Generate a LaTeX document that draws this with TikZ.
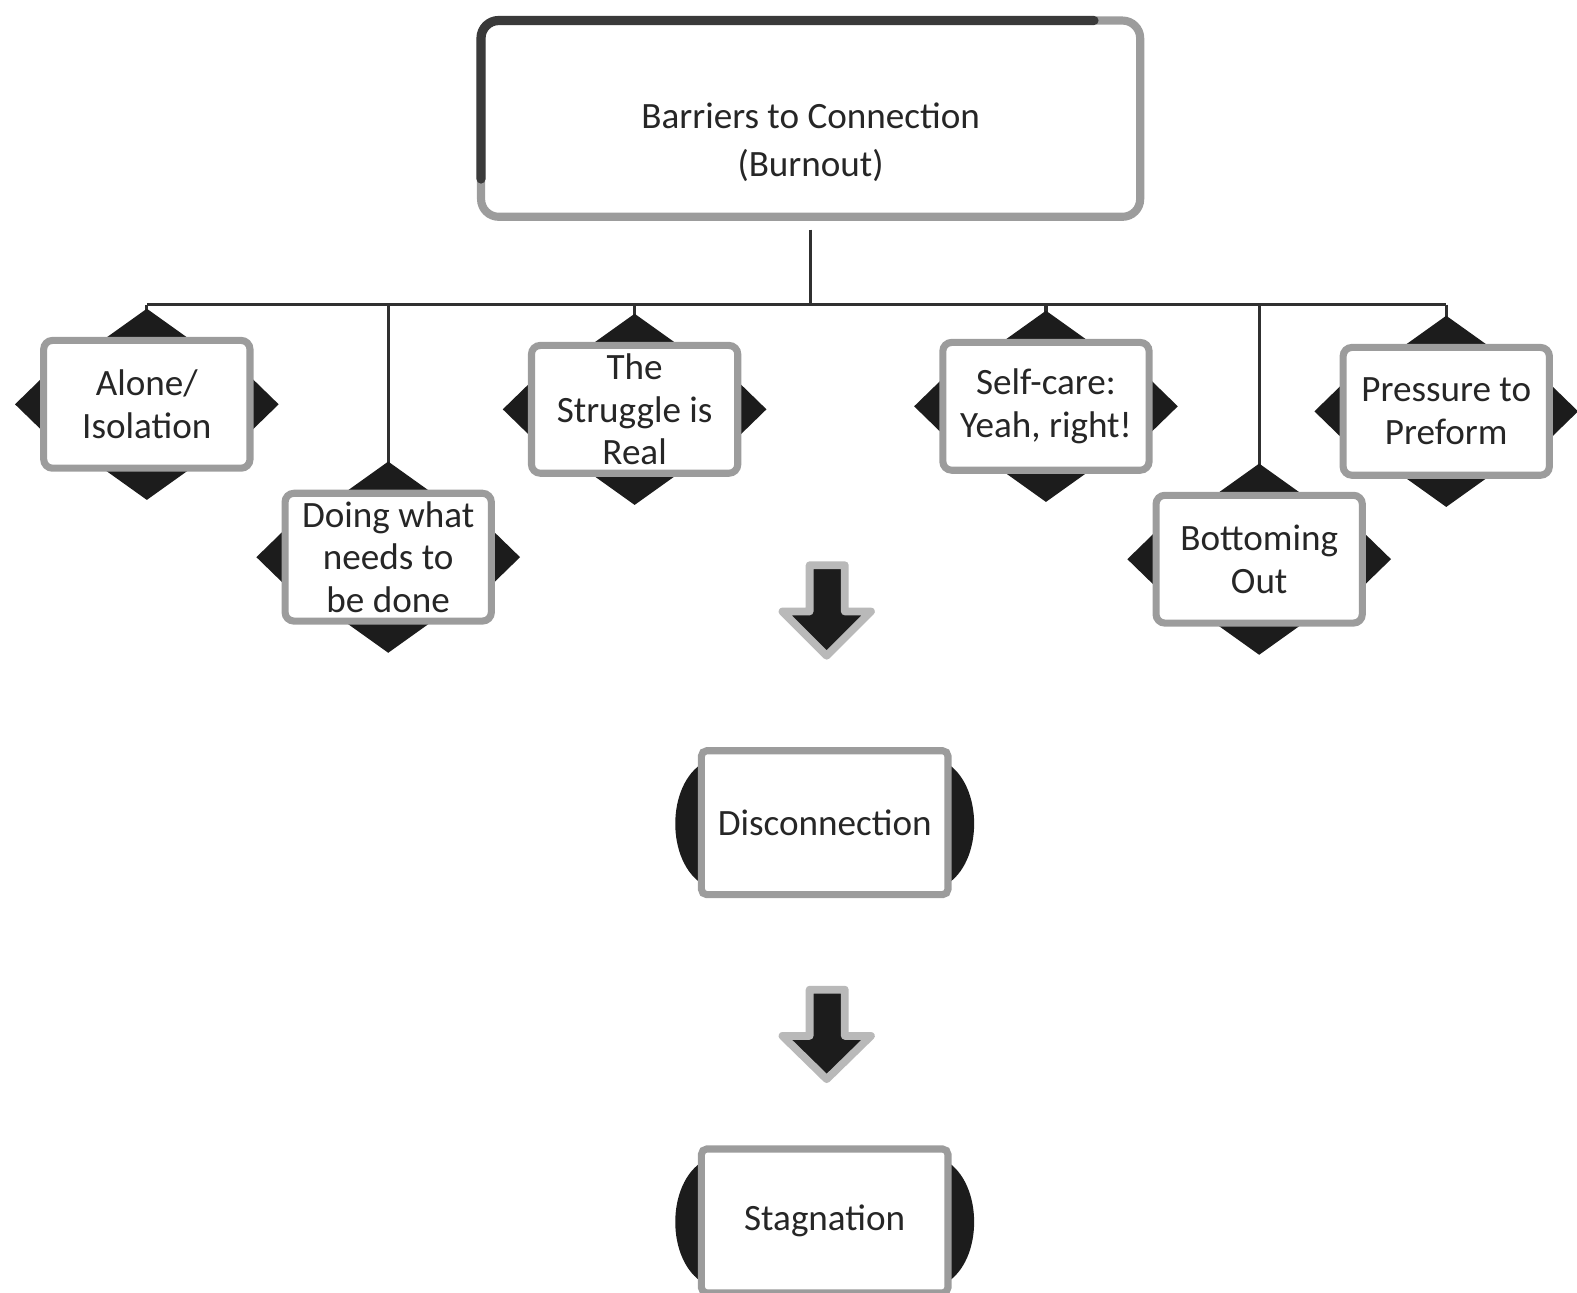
\documentclass[tikz,border=0pt]{standalone}
\usepackage{fontspec}
\setmainfont{Carlito}
\usetikzlibrary{calc,backgrounds}
\definecolor{txt}{HTML}{262626}
\definecolor{rim}{HTML}{9C9C9C}
\definecolor{tri}{HTML}{1C1C1C}
\definecolor{darkrim}{HTML}{3A3A3A}
\definecolor{conn}{HTML}{303030}
\tikzset{
  item/.style={draw=rim, line width=2pt, fill=white, rounded corners=2.5pt,
    minimum width=2.05cm, minimum height=1.27cm, align=center, text=txt,
    inner sep=0pt, font=\fontsize{10.5pt}{12pt}\selectfont},
  headbox/.style={draw=rim, line width=2.3pt, fill=white, rounded corners=5pt,
    minimum width=6.55cm, minimum height=1.95cm, align=center, text=txt,
    inner sep=0pt, font=\fontsize{10.5pt}{13.4pt}\selectfont},
  stagebox/.style={draw=rim, line width=2pt, fill=white, rounded corners=1.5pt,
    minimum width=2.45cm, minimum height=1.43cm, align=center, text=txt,
    inner sep=0pt, font=\fontsize{10.5pt}{12pt}\selectfont},
  connline/.style={draw=conn, line width=0.9pt},
  blockarrow/.style={fill=tri, draw=gray!55, line width=2.2pt, line join=round},
  lens/.style={fill=tri}
}
\newcommand\fourtris[1]{%
  \fill[tri] ($(#1.north)+(-56,12)$) -- ($(#1.north)+(0,-28)$) -- ($(#1.north)+(56,12)$) -- cycle;
  \fill[tri] ($(#1.south)+(-56,-12)$) -- ($(#1.south)+(0,28)$) -- ($(#1.south)+(56,-12)$) -- cycle;
  \fill[tri] ($(#1.west)+(12,-36)$) -- ($(#1.west)+(-25,0)$) -- ($(#1.west)+(12,36)$) -- cycle;
  \fill[tri] ($(#1.east)+(-12,-36)$) -- ($(#1.east)+(25,0)$) -- ($(#1.east)+(-12,36)$) -- cycle;
}
\newcommand\sidelenses[1]{%
  \fill[lens] ($(#1.west)+(6,-60)$) .. controls ($(#1.west)+(-32,-38)$) and ($(#1.west)+(-32,40)$) .. ($(#1.west)+(6,62)$) -- cycle;
  \fill[lens] ($(#1.east)+(-6,-60)$) .. controls ($(#1.east)+(32,-38)$) and ($(#1.east)+(32,40)$) .. ($(#1.east)+(-6,62)$) -- cycle;
}
\begin{document}
\begin{tikzpicture}[x=0.01cm,y=-0.01cm]
\useasboundingbox (0,0) rectangle (1568,1285);

% top box
\node[headbox] (top) at (806,118) {\rule{0pt}{0.72cm}Barriers to Connection\\(Burnout)};
\draw[darkrim, line width=2.6pt, rounded corners=5pt, line cap=round]
  ($(top.west)+(4,60)$) |- ($(top.north east)+(-50,4)$);

% branch boxes
\node[item] (alone)     at (146,402)  {Alone/\\Isolation};
\node[item] (doing)     at (386,554)  {Doing what\\needs to\\be done};
\node[item] (struggle)  at (631,407)  {The\\Struggle is\\Real};
\node[item] (selfcare)  at (1040,404) {Self-care:\\Yeah, right!};
\node[item] (bottoming) at (1252,556) {Bottoming\\Out};
\node[item] (pressure)  at (1438,409) {Pressure to\\Preform};

% outcome boxes
\node[stagebox] (disc) at (820,818)  {Disconnection};
\node[stagebox] (stag) at (820,1214) {Stagnation};

% bar coordinates
\coordinate (barL) at (146,303);
\coordinate (barR) at (1438,303);

\begin{scope}[on background layer]
  \draw[connline, shorten <=2.5pt] (top.south) -- (top.south |- barL);
  \draw[connline] (barL) -- (barR);
  \draw[connline] (alone.north |- barL) -- (alone.north);
  \draw[connline] (doing.north |- barL) -- (doing.north);
  \draw[connline] (struggle.north |- barL) -- (struggle.north);
  \draw[connline] (selfcare.north |- barL) -- (selfcare.north);
  \draw[connline] (bottoming.north |- barL) -- (bottoming.north);
  \draw[connline] (pressure.north |- barL) -- (pressure.north);
  \fourtris{alone}
  \fourtris{doing}
  \fourtris{struggle}
  \fourtris{selfcare}
  \fourtris{bottoming}
  \fourtris{pressure}
  \sidelenses{disc}
  \sidelenses{stag}
\end{scope}

% block arrows
\filldraw[blockarrow] (805,562) -- (840,562) -- (840,608) -- (866,608) -- (822,652)
  -- (778,608) -- (805,608) -- cycle;
\filldraw[blockarrow] (805,984) -- (840,984) -- (840,1030) -- (866,1030) -- (822,1073)
  -- (778,1030) -- (805,1030) -- cycle;
\end{tikzpicture}
\end{document}
